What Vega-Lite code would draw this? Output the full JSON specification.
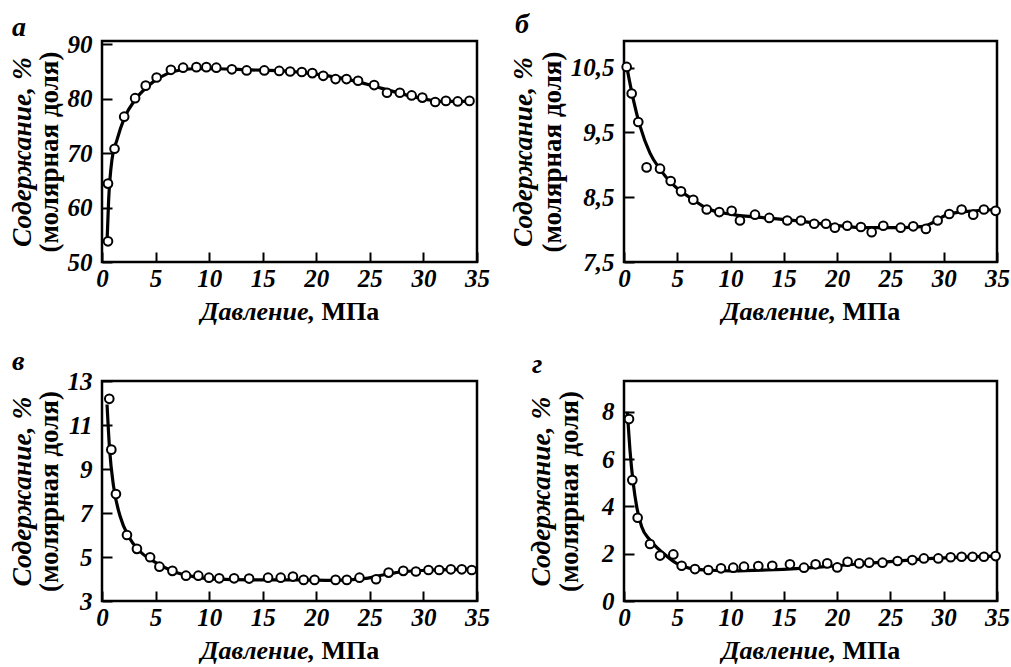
{
  "$schema": "https://vega.github.io/schema/vega-lite/v6.json",
  "autosize": {"type": "none"},
  "padding": {"left": 102, "top": 41, "right": 909, "bottom": 626},
  "background": "white",
  "datasets": {
    "a_pts": [
      {"x":0.56,"y":53.8},{"x":0.56,"y":64.4},{"x":1.17,"y":70.8},{"x":2.07,"y":76.7},{"x":3.09,"y":80.1},{"x":4.08,"y":82.4},{"x":5.1,"y":83.9},{"x":6.43,"y":85.3},{"x":7.57,"y":85.7},{"x":8.81,"y":85.8},{"x":9.74,"y":85.8},{"x":10.67,"y":85.7},{"x":12.12,"y":85.4},{"x":13.5,"y":85.2},{"x":15.15,"y":85.2},{"x":16.54,"y":85.1},{"x":17.56,"y":85.0},{"x":18.65,"y":84.9},{"x":19.63,"y":84.7},{"x":20.65,"y":84.2},{"x":21.8,"y":83.6},{"x":22.82,"y":83.6},{"x":23.9,"y":83.3},{"x":25.4,"y":82.5},{"x":26.6,"y":81.1},{"x":27.8,"y":81.1},{"x":28.9,"y":80.6},{"x":29.9,"y":80.2},{"x":31.1,"y":79.4},{"x":32.1,"y":79.6},{"x":33.2,"y":79.5},{"x":34.3,"y":79.6}
    ],
    "a_fit": [
      {"x":0.46,"y":53.2},{"x":0.62,"y":61.4},{"x":0.93,"y":68.8},{"x":1.39,"y":72.4},{"x":2.07,"y":76.4},{"x":3.09,"y":79.8},{"x":4.17,"y":82.1},{"x":5.41,"y":83.9},{"x":6.64,"y":85.0},{"x":8.5,"y":85.5},{"x":10.67,"y":85.5},{"x":13.76,"y":85.3},{"x":16.85,"y":85.1},{"x":19.94,"y":84.5},{"x":23.03,"y":83.5},{"x":26.12,"y":81.9},{"x":29.22,"y":80.3},{"x":31.69,"y":79.5},{"x":34.34,"y":79.5}
    ],
    "b_pts": [
      {"x":0.25,"y":10.51},{"x":0.72,"y":10.1},{"x":1.34,"y":9.66},{"x":2.12,"y":8.96},{"x":3.38,"y":8.94},{"x":4.38,"y":8.75},{"x":5.35,"y":8.59},{"x":6.5,"y":8.46},{"x":7.76,"y":8.31},{"x":8.94,"y":8.27},{"x":10.1,"y":8.29},{"x":10.88,"y":8.14},{"x":12.29,"y":8.23},{"x":13.63,"y":8.18},{"x":15.32,"y":8.14},{"x":16.6,"y":8.14},{"x":17.85,"y":8.09},{"x":18.95,"y":8.09},{"x":19.79,"y":8.03},{"x":20.95,"y":8.06},{"x":22.23,"y":8.04},{"x":23.24,"y":7.96},{"x":24.33,"y":8.06},{"x":25.96,"y":8.03},{"x":27.14,"y":8.05},{"x":28.33,"y":8.01},{"x":29.43,"y":8.14},{"x":30.52,"y":8.24},{"x":31.68,"y":8.31},{"x":32.77,"y":8.23},{"x":33.77,"y":8.31},{"x":34.87,"y":8.29}
    ],
    "b_fit": [
      {"x":0.25,"y":10.52},{"x":0.87,"y":10.01},{"x":1.5,"y":9.6},{"x":2.44,"y":9.18},{"x":3.38,"y":8.93},{"x":4.63,"y":8.69},{"x":6.5,"y":8.46},{"x":7.76,"y":8.33},{"x":10.26,"y":8.23},{"x":13.39,"y":8.18},{"x":16.5,"y":8.13},{"x":19.6,"y":8.07},{"x":22.74,"y":8.03},{"x":25.9,"y":8.03},{"x":28.1,"y":8.05},{"x":29.0,"y":8.11},{"x":30.3,"y":8.23},{"x":32.2,"y":8.28},{"x":34.87,"y":8.31}
    ],
    "c_pts": [
      {"x":0.68,"y":12.19},{"x":0.87,"y":9.88},{"x":1.3,"y":7.86},{"x":2.33,"y":6.0},{"x":3.26,"y":5.37},{"x":4.49,"y":4.99},{"x":5.36,"y":4.56},{"x":6.57,"y":4.37},{"x":7.84,"y":4.15},{"x":8.99,"y":4.15},{"x":9.98,"y":4.06},{"x":10.94,"y":4.03},{"x":12.33,"y":4.03},{"x":13.73,"y":4.02},{"x":15.5,"y":4.06},{"x":16.68,"y":4.06},{"x":17.82,"y":4.11},{"x":18.82,"y":3.96},{"x":19.84,"y":3.96},{"x":21.8,"y":3.96},{"x":22.85,"y":3.96},{"x":24.03,"y":4.06},{"x":25.58,"y":3.99},{"x":26.75,"y":4.29},{"x":28.12,"y":4.37},{"x":29.3,"y":4.34},{"x":30.47,"y":4.41},{"x":31.47,"y":4.41},{"x":32.56,"y":4.44},{"x":33.58,"y":4.44},{"x":34.51,"y":4.41}
    ],
    "c_fit": [
      {"x":0.47,"y":11.93},{"x":0.71,"y":9.88},{"x":1.08,"y":8.21},{"x":1.7,"y":6.84},{"x":2.48,"y":5.93},{"x":3.56,"y":5.25},{"x":5.12,"y":4.72},{"x":6.66,"y":4.34},{"x":8.52,"y":4.11},{"x":10.7,"y":3.99},{"x":13.8,"y":3.96},{"x":18.45,"y":3.96},{"x":21.55,"y":3.94},{"x":24.65,"y":4.03},{"x":26.2,"y":4.18},{"x":27.75,"y":4.31},{"x":30.85,"y":4.41},{"x":34.51,"y":4.44}
    ],
    "d_pts": [
      {"x":0.47,"y":7.69},{"x":0.78,"y":5.11},{"x":1.28,"y":3.52},{"x":2.44,"y":2.41},{"x":3.38,"y":1.92},{"x":4.63,"y":1.97},{"x":5.41,"y":1.49},{"x":6.66,"y":1.35},{"x":7.91,"y":1.31},{"x":9.1,"y":1.38},{"x":10.25,"y":1.41},{"x":11.26,"y":1.45},{"x":12.6,"y":1.48},{"x":13.91,"y":1.49},{"x":15.57,"y":1.55},{"x":16.89,"y":1.41},{"x":17.98,"y":1.55},{"x":19.07,"y":1.59},{"x":20.01,"y":1.42},{"x":20.98,"y":1.66},{"x":22.07,"y":1.59},{"x":23.01,"y":1.62},{"x":24.26,"y":1.62},{"x":25.67,"y":1.69},{"x":27.05,"y":1.73},{"x":28.14,"y":1.8},{"x":29.49,"y":1.8},{"x":30.65,"y":1.85},{"x":31.68,"y":1.87},{"x":32.71,"y":1.87},{"x":33.77,"y":1.87},{"x":34.87,"y":1.9}
    ],
    "d_fit": [
      {"x":0.31,"y":8.0},{"x":0.56,"y":6.38},{"x":0.87,"y":4.97},{"x":1.19,"y":3.99},{"x":1.66,"y":3.14},{"x":2.44,"y":2.58},{"x":3.69,"y":2.02},{"x":4.94,"y":1.59},{"x":6.19,"y":1.38},{"x":7.76,"y":1.31},{"x":10.26,"y":1.27},{"x":13.39,"y":1.31},{"x":16.51,"y":1.38},{"x":19.63,"y":1.48},{"x":22.76,"y":1.59},{"x":25.89,"y":1.7},{"x":29.02,"y":1.8},{"x":34.87,"y":1.9}
    ]
  },
  "columns": 2,
  "spacing": {"row": 119, "column": 147},
  "bounds": "flush",
  "concat": [
    {
      "width": 375, "height": 221,
      "title": {"text": "а", "anchor": "start", "frame": "group", "dx": -90, "dy": 41, "offset": 9, "baseline": "alphabetic"},
      "layer": [
        {"data": {"name": "a_fit"}, "mark": {"type": "line", "color": "black", "strokeWidth": 3.2, "interpolate": "monotone"},
         "encoding": {
           "x": {"field": "x", "type": "quantitative", "scale": {"domain": [0, 35], "nice": false, "zero": false},
                 "axis": {"orient": "bottom", "values": [0,5,10,15,20,25,30,35], "labelPadding": 14, "labelFlush": false, "title": "Давление,", "titleFontStyle": "italic", "titleX": 212.5, "titleY": 57, "titleAlign": "right", "titleBaseline": "alphabetic"}},
           "y": {"field": "y", "type": "quantitative", "scale": {"domain": [50, 90.6], "nice": false, "zero": false},
                 "axis": {"orient": "left", "values": [50,60,70,80,90], "labelPadding": 20, "labelFlush": false, "title": "(молярная доля)", "titleFontSize": 27, "titleFontStyle": "normal", "titleX": -45, "titleY": 110.5, "titleAlign": "center", "titleBaseline": "alphabetic", "titleAngle": 270}}}},
        {"data": {"name": "a_pts"}, "mark": {"type": "point", "shape": "circle", "filled": true, "fill": "white", "stroke": "black", "strokeWidth": 2, "size": 75, "opacity": 1},
         "encoding": {
           "x": {"field": "x", "type": "quantitative", "axis": {"orient": "bottom", "labels": false, "ticks": false, "title": "МПа", "titleFontStyle": "normal", "titleX": 219, "titleY": 57, "titleAlign": "left", "titleBaseline": "alphabetic"}},
           "y": {"field": "y", "type": "quantitative", "axis": {"orient": "left", "labels": false, "ticks": false, "title": "Содержание, %", "titleFontSize": 27.5, "titleFontStyle": "italic", "titleX": -72, "titleY": 110.5, "titleAlign": "center", "titleBaseline": "alphabetic", "titleAngle": 270}}}}
      ],
      "resolve": {"axis": {"x": "independent", "y": "independent"}}
    },
    {
      "width": 373, "height": 221,
      "title": {"text": "б", "anchor": "start", "frame": "group", "dx": -109, "dy": 29, "offset": 9, "baseline": "alphabetic"},
      "layer": [
        {"data": {"name": "b_fit"}, "mark": {"type": "line", "color": "black", "strokeWidth": 3.2, "interpolate": "monotone"},
         "encoding": {
           "x": {"field": "x", "type": "quantitative", "scale": {"domain": [0, 35], "nice": false, "zero": false},
                 "axis": {"orient": "bottom", "values": [0,5,10,15,20,25,30,35], "labelPadding": 14, "labelFlush": false, "title": "Давление,", "titleFontStyle": "italic", "titleX": 211.5, "titleY": 57, "titleAlign": "right", "titleBaseline": "alphabetic"}},
           "y": {"field": "y", "type": "quantitative", "scale": {"domain": [7.5, 10.91], "nice": false, "zero": false},
                 "axis": {"orient": "left", "values": [7.5,8.5,9.5,10.5], "labelExpr": "replace(format(datum.value, '.1f'), '.', ',')", "labelPadding": 20, "labelFlush": false, "title": "(молярная доля)", "titleFontSize": 27, "titleFontStyle": "normal", "titleX": -64, "titleY": 110.5, "titleAlign": "center", "titleBaseline": "alphabetic", "titleAngle": 270}}}},
        {"data": {"name": "b_pts"}, "mark": {"type": "point", "shape": "circle", "filled": true, "fill": "white", "stroke": "black", "strokeWidth": 2, "size": 75, "opacity": 1},
         "encoding": {
           "x": {"field": "x", "type": "quantitative", "axis": {"orient": "bottom", "labels": false, "ticks": false, "title": "МПа", "titleFontStyle": "normal", "titleX": 218, "titleY": 57, "titleAlign": "left", "titleBaseline": "alphabetic"}},
           "y": {"field": "y", "type": "quantitative", "axis": {"orient": "left", "labels": false, "ticks": false, "title": "Содержание, %", "titleFontSize": 27.5, "titleFontStyle": "italic", "titleX": -92.5, "titleY": 110.5, "titleAlign": "center", "titleBaseline": "alphabetic", "titleAngle": 270}}}}
      ],
      "resolve": {"axis": {"x": "independent", "y": "independent"}}
    },
    {
      "width": 375, "height": 220,
      "title": {"text": "в", "anchor": "start", "frame": "group", "dx": -90, "dy": 40, "offset": 11, "baseline": "alphabetic"},
      "layer": [
        {"data": {"name": "c_fit"}, "mark": {"type": "line", "color": "black", "strokeWidth": 3.2, "interpolate": "monotone"},
         "encoding": {
           "x": {"field": "x", "type": "quantitative", "scale": {"domain": [0, 35], "nice": false, "zero": false},
                 "axis": {"orient": "bottom", "values": [0,5,10,15,20,25,30,35], "labelPadding": 14, "labelFlush": false, "title": "Давление,", "titleFontStyle": "italic", "titleX": 212.5, "titleY": 57, "titleAlign": "right", "titleBaseline": "alphabetic"}},
           "y": {"field": "y", "type": "quantitative", "scale": {"domain": [3, 13], "nice": false, "zero": false},
                 "axis": {"orient": "left", "values": [3,5,7,9,11,13], "labelPadding": 20, "labelFlush": false, "title": "(молярная доля)", "titleFontSize": 27, "titleFontStyle": "normal", "titleX": -45, "titleY": 110, "titleAlign": "center", "titleBaseline": "alphabetic", "titleAngle": 270}}}},
        {"data": {"name": "c_pts"}, "mark": {"type": "point", "shape": "circle", "filled": true, "fill": "white", "stroke": "black", "strokeWidth": 2, "size": 75, "opacity": 1},
         "encoding": {
           "x": {"field": "x", "type": "quantitative", "axis": {"orient": "bottom", "labels": false, "ticks": false, "title": "МПа", "titleFontStyle": "normal", "titleX": 219, "titleY": 57, "titleAlign": "left", "titleBaseline": "alphabetic"}},
           "y": {"field": "y", "type": "quantitative", "axis": {"orient": "left", "labels": false, "ticks": false, "title": "Содержание, %", "titleFontSize": 27.5, "titleFontStyle": "italic", "titleX": -72, "titleY": 110, "titleAlign": "center", "titleBaseline": "alphabetic", "titleAngle": 270}}}}
      ],
      "resolve": {"axis": {"x": "independent", "y": "independent"}}
    },
    {
      "width": 373, "height": 220,
      "title": {"text": "г", "anchor": "start", "frame": "group", "dx": -92, "dy": 29, "offset": 9, "baseline": "alphabetic"},
      "layer": [
        {"data": {"name": "d_fit"}, "mark": {"type": "line", "color": "black", "strokeWidth": 3.2, "interpolate": "monotone"},
         "encoding": {
           "x": {"field": "x", "type": "quantitative", "scale": {"domain": [0, 35], "nice": false, "zero": false},
                 "axis": {"orient": "bottom", "values": [0,5,10,15,20,25,30,35], "labelPadding": 14, "labelFlush": false, "title": "Давление,", "titleFontStyle": "italic", "titleX": 211.5, "titleY": 57, "titleAlign": "right", "titleBaseline": "alphabetic"}},
           "y": {"field": "y", "type": "quantitative", "scale": {"domain": [0, 9.3], "nice": false, "zero": false},
                 "axis": {"orient": "left", "values": [0,2,4,6,8], "labelPadding": 20, "labelFlush": false, "title": "(молярная доля)", "titleFontSize": 27, "titleFontStyle": "normal", "titleX": -47, "titleY": 110, "titleAlign": "center", "titleBaseline": "alphabetic", "titleAngle": 270}}}},
        {"data": {"name": "d_pts"}, "mark": {"type": "point", "shape": "circle", "filled": true, "fill": "white", "stroke": "black", "strokeWidth": 2, "size": 75, "opacity": 1},
         "encoding": {
           "x": {"field": "x", "type": "quantitative", "axis": {"orient": "bottom", "labels": false, "ticks": false, "title": "МПа", "titleFontStyle": "normal", "titleX": 218, "titleY": 57, "titleAlign": "left", "titleBaseline": "alphabetic"}},
           "y": {"field": "y", "type": "quantitative", "axis": {"orient": "left", "labels": false, "ticks": false, "title": "Содержание, %", "titleFontSize": 27.5, "titleFontStyle": "italic", "titleX": -74.5, "titleY": 110, "titleAlign": "center", "titleBaseline": "alphabetic", "titleAngle": 270}}}}
      ],
      "resolve": {"axis": {"x": "independent", "y": "independent"}}
    }
  ],
  "config": {
    "font": "Liberation Serif",
    "view": {"stroke": "black", "strokeWidth": 2.5},
    "axis": {
      "domain": false, "grid": false,
      "tickColor": "black", "tickWidth": 2, "tickSize": -10,
      "labelFont": "Liberation Serif", "labelFontSize": 25, "labelFontStyle": "italic", "labelFontWeight": "bold", "labelColor": "black",
      "titleFont": "Liberation Serif", "titleFontSize": 26, "titleFontWeight": "bold", "titleColor": "black"
    },
    "title": {"font": "Liberation Serif", "fontSize": 28, "fontStyle": "italic", "fontWeight": "bold", "color": "black"}
  }
}
